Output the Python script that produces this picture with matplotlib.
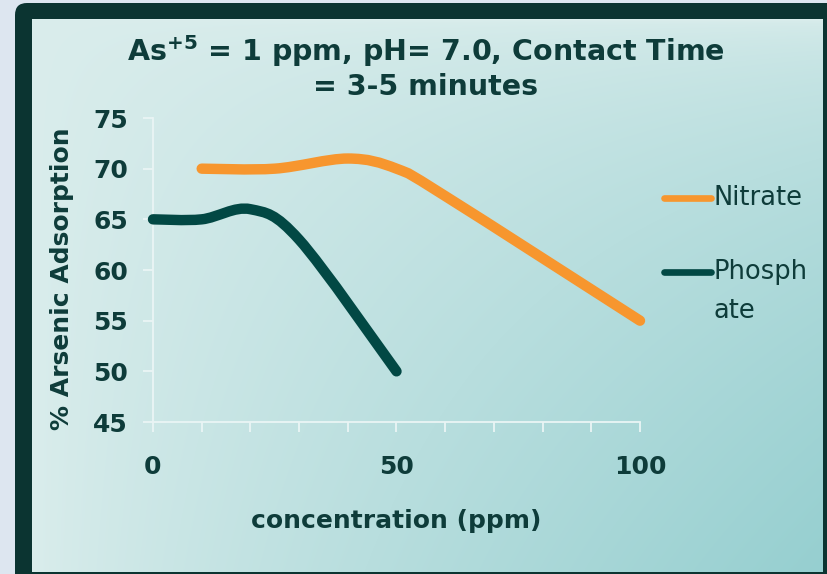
import numpy as np
import matplotlib
matplotlib.use("Agg")
import matplotlib.pyplot as plt
from matplotlib.path import Path
from matplotlib.patches import PathPatch, FancyBboxPatch
from matplotlib.lines import Line2D

# ---- data ----
nitrate_x = [10, 25, 40, 50, 60, 100]
nitrate_y = [70, 70, 71, 70, 67.3, 55]
phosphate_x = [0, 10, 20, 30, 50]
phosphate_y = [65, 65, 66, 63, 50]
series_names = ["Nitrate", "Phosph\nate"]
x_major_ticks = [0, 50, 100]
y_ticks = [45, 50, 55, 60, 65, 70, 75]

TEXT = "#0e3c3a"
ORANGE = "#f7962e"
DARKTEAL = "#024844"
FRAME = "#0b3431"
AXISC = "#eaf5f5"

W, H = 828, 574
fig = plt.figure(figsize=(W / 100, H / 100), dpi=100)
fig.patch.set_facecolor("#dde6f0")

# background / frame axes in pixel coordinates
bg = fig.add_axes([0, 0, 1, 1])
bg.set_xlim(0, W)
bg.set_ylim(H, 0)
bg.axis("off")
bg.add_patch(FancyBboxPatch((15, 3), 900, 700, boxstyle="round,pad=0,rounding_size=12",
                            facecolor=FRAME, edgecolor="none"))
nx, ny = 400, 280
u = np.linspace(0, 1, nx)[None, :]
v = np.linspace(0, 1, ny)[:, None]
t = (u ** 0.8) * (v ** 0.5)
light = np.array([218, 237, 236]) / 255
dark = np.array([150, 207, 208]) / 255
img = light[None, None, :] * (1 - t[..., None]) + dark[None, None, :] * t[..., None]
bg.imshow(img, extent=[32, 823, 572, 19], aspect="auto", interpolation="bilinear", zorder=1)
bg.set_xlim(0, W)
bg.set_ylim(H, 0)

# main axes
ax = fig.add_axes([153 / W, 1 - 422 / H, 487 / W, 304 / H])
ax.set_facecolor("none")
ax.set_xlim(0, 100)
ax.set_ylim(45, 75)


def smooth_path(xs, ys):
    pts = np.column_stack([xs, ys]).astype(float)
    n = len(pts)
    verts = [pts[0]]
    codes = [Path.MOVETO]
    for i in range(n - 1):
        p0 = pts[i - 1] if i > 0 else pts[i]
        p1 = pts[i]
        p2 = pts[i + 1]
        p3 = pts[i + 2] if i + 2 < n else pts[i + 1]
        c1 = p1 + (p2 - p0) / 6.0
        c2 = p2 - (p3 - p1) / 6.0
        verts += [c1, c2, p2]
        codes += [Path.CURVE4] * 3
    return Path(verts, codes)


for xs, ys, col in [(nitrate_x, nitrate_y, ORANGE), (phosphate_x, phosphate_y, DARKTEAL)]:
    patch = PathPatch(smooth_path(xs, ys), facecolor="none", edgecolor=col, lw=7.5,
                      capstyle="round", joinstyle="round", transform=ax.transData,
                      clip_on=False, zorder=3)
    ax.add_patch(patch)

for s in ["top", "right"]:
    ax.spines[s].set_visible(False)
for s in ["left", "bottom"]:
    ax.spines[s].set_color(AXISC)
    ax.spines[s].set_linewidth(1.3)

ax.set_xticks(x_major_ticks)
ax.set_xticks(np.arange(0, 101, 10), minor=True)
ax.set_yticks(y_ticks)
ax.tick_params(axis="both", which="both", direction="out", color=AXISC, width=1.3, length=7)
ax.tick_params(axis="y", labelsize=18, labelcolor=TEXT, pad=11)
ax.tick_params(axis="x", labelsize=18, labelcolor=TEXT, pad=17)
for lab in ax.get_xticklabels() + ax.get_yticklabels():
    lab.set_fontweight("bold")

ax.set_xlabel("concentration (ppm)", fontsize=18, fontweight="bold", color=TEXT)
ax.xaxis.set_label_coords((396 - 153) / 487, 1 - (509 - 118) / 304)
ax.set_ylabel("% Arsenic Adsorption", fontsize=18, fontweight="bold", color=TEXT)
ax.yaxis.set_label_coords((74 - 153) / 487, 1 - (279 - 118) / 304)

# title
bg.text(426, 51, r"As$^{\mathbf{+5}}$ = 1 ppm, pH= 7.0, Contact Time", ha="center", va="center",
        fontsize=20.5, fontweight="bold", color=TEXT, zorder=5)
bg.text(426, 87, "= 3-5 minutes", ha="center", va="center",
        fontsize=20.5, fontweight="bold", color=TEXT, zorder=5)

# legend
leg_y = [198, 272]
leg_cols = [ORANGE, DARKTEAL]
for yy, col, name in zip(leg_y, leg_cols, series_names):
    bg.add_line(Line2D([664, 711], [yy, yy], color=col, lw=4.8, solid_capstyle="round", zorder=5))
    for k, part in enumerate(name.split("\n")):
        bg.text(714, yy + 39 * k, part, ha="left", va="center", fontsize=18.5, color=TEXT,
                zorder=5)

fig.savefig("out.png", dpi=100, facecolor=fig.get_facecolor())
